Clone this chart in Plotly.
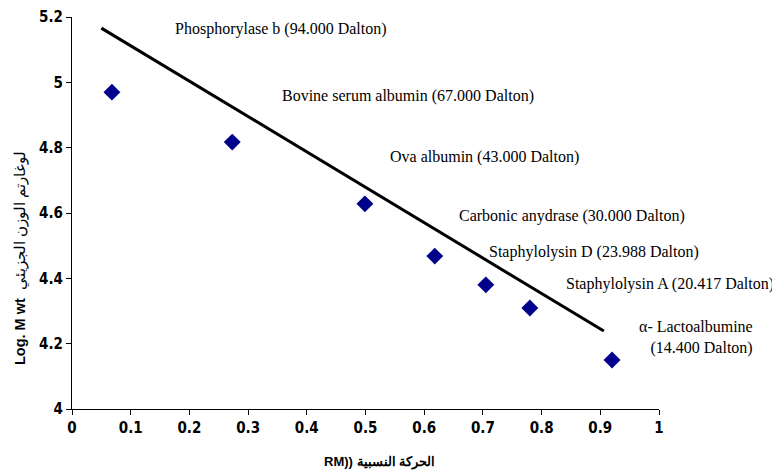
import plotly.graph_objects as go

proteins = ["Phosphorylase b (94.000 Dalton)", "Bovine serum albumin (67.000 Dalton)",
            "Ova albumin (43.000 Dalton)", "Carbonic anydrase (30.000 Dalton)",
            "Staphylolysin D (23.988 Dalton)", "Staphylolysin A (20.417 Dalton)",
            "α- Lactoalbumine<br>(14.400 Dalton)"]
rm = [0.068, 0.273, 0.499, 0.618, 0.705, 0.780, 0.920]
log_mw = [4.970, 4.817, 4.628, 4.468, 4.380, 4.309, 4.150]
line_x = [0.05, 0.906]
line_y = [5.166, 4.239]
label_x = [0.356, 0.572, 0.702, 0.852, 0.889, 1.018, 1.063]
label_y = [5.163, 4.957, 4.770, 4.590, 4.480, 4.382, 4.220]
x_title = "<b>RM)) الحركة النسبية</b>"
y_title = "<b>Log. M wt</b>  لوغارتم الوزن الجزيئي"

fig = go.Figure()
fig.add_trace(go.Scatter(x=line_x, y=line_y, mode="lines",
                         line=dict(color="black", width=3), showlegend=False))
fig.add_trace(go.Scatter(x=rm, y=log_mw, mode="markers",
                         marker=dict(symbol="diamond", size=13, color="#00008B"),
                         showlegend=False))
for t, x, y in zip(proteins, label_x, label_y):
    fig.add_annotation(x=x, y=(y - 4) / 1.2, text=t, showarrow=False, xref="paper", yref="paper",
                       xanchor="center", yanchor="middle",
                       font=dict(family="Liberation Serif", size=16, color="black"),
                       align="right")

fig.add_annotation(x=0.523, y=0, xref="paper", yref="paper", yshift=-53, text=x_title,
                   showarrow=False, xanchor="center", yanchor="middle",
                   font=dict(family="Liberation Sans", size=13, color="black"))
fig.add_annotation(x=0, y=0.385, xref="paper", yref="paper", xshift=-52, text=y_title,
                   textangle=-90, showarrow=False, xanchor="center", yanchor="middle",
                   font=dict(family="Liberation Sans", size=14.5, color="black"))

tickfont = dict(family="DejaVu Sans Condensed", size=15, color="black", weight="bold")
fig.update_layout(
    width=772, height=468, plot_bgcolor="white", paper_bgcolor="white",
    margin=dict(l=64, r=121, t=9, b=67),
    xaxis=dict(range=[0, 1], tickvals=[i/10 for i in range(11)],
               ticktext=["0", "0.1", "0.2", "0.3", "0.4", "0.5", "0.6", "0.7", "0.8", "0.9", "1"],
               showgrid=False, zeroline=False, showline=True, linecolor="black", linewidth=1,
               ticks="outside", ticklen=5, tickcolor="black", tickfont=tickfont, automargin=False),
    yaxis=dict(range=[4, 5.2], tickvals=[4, 4.2, 4.4, 4.6, 4.8, 5, 5.2],
               ticktext=["4", "4.2", "4.4", "4.6", "4.8", "5", "5.2"],
               showgrid=False, zeroline=False, showline=True, linecolor="black", linewidth=1,
               ticks="outside", ticklen=5, tickcolor="black", tickfont=tickfont, automargin=False),
)
fig.write_html("out.html")
